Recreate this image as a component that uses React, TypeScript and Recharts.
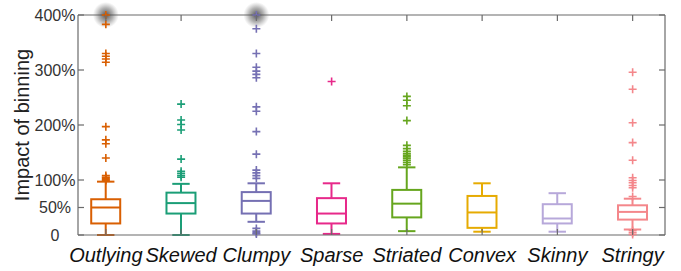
import { ComposedChart, Bar, Scatter, XAxis, YAxis } from 'recharts';

const categories = ['Outlying', 'Skewed', 'Clumpy', 'Sparse', 'Striated', 'Convex', 'Skinny', 'Stringy'];
const colors = ['#D95F02', '#1B9E77', '#7570B3', '#E7298A', '#66A61E', '#E6AB02', '#B7A8DA', '#F4878B'];

// box stats, in percent
const lowerWhisker = [0, 0, 24, 2, 7, 6, 6, 10];
const q1 = [21, 39, 39, 21, 32, 13, 21, 28];
const median = [50, 58, 62, 39, 57, 41, 30, 42];
const q3 = [65, 77, 78, 67, 82, 71, 56, 54];
const upperWhisker = [97, 93, 94, 94, 123, 94, 76, 66];

const outliers = [
  [400, 383, 330, 325, 320, 314, 197, 173, 166, 140, 108, 105, 103, 101, 99],
  [238, 209, 201, 191, 138, 116, 112, 108, 105],
  [400, 375, 330, 305, 298, 292, 286, 233, 225, 188, 147, 118, 113, 108, 103, 12, 7, 4, 2],
  [279],
  [252, 245, 235, 208, 163, 157, 152, 148, 145, 142, 139, 136, 132, 128],
  [],
  [],
  [296, 265, 204, 168, 136, 104, 99, 95, 90, 86, 70, 8, 4, 1],
];

const yTicks = [0, 50, 100, 200, 300, 400];
const xTicks = categories.map((_, i) => i + 1);

const boxData = categories.map((name, i) => ({
  x: i + 1,
  name,
  range: [lowerWhisker[i], upperWhisker[i]],
  q1: q1[i],
  med: median[i],
  q3: q3[i],
  color: colors[i],
}));

const axisColor = '#6b6b6b';
const font = '"Liberation Sans", Arial, sans-serif';

const BoxShape = (props: any) => {
  const { x, y, width, height, payload } = props;
  const [lo, hi] = payload.range;
  const top = Math.min(y, y + height);
  const h = Math.abs(height);
  const py = (v: number) => top + (h * (hi - v)) / (hi - lo);
  const cx = x + width / 2;
  const cap = width * 0.3;
  const c = payload.color;
  return (
    <g stroke={c} strokeWidth={2} fill="none">
      <line x1={cx} x2={cx} y1={py(hi)} y2={py(payload.q3)} />
      <line x1={cx} x2={cx} y1={py(payload.q1)} y2={py(lo)} />
      <line x1={cx - cap} x2={cx + cap} y1={py(hi)} y2={py(hi)} />
      <line x1={cx - cap} x2={cx + cap} y1={py(lo)} y2={py(lo)} />
      <rect x={x} y={py(payload.q3)} width={width} height={py(payload.q1) - py(payload.q3)} />
      <line x1={x} x2={x + width} y1={py(payload.med)} y2={py(payload.med)} />
    </g>
  );
};

const plusShape = (color: string) => (props: any) => {
  const { cx, cy, payload } = props;
  return (
    <g>
      {payload.y >= 400 && <circle cx={cx} cy={cy} r={13} fill="url(#glow)" />}
      <path d={`M${cx - 4},${cy}H${cx + 4}M${cx},${cy - 4}V${cy + 4}`} stroke={color} strokeWidth={1.6} />
    </g>
  );
};

const LeftTick = (props: any) => {
  const { x, y, payload } = props;
  return (
    <g>
      <line x1={x} x2={x + 6} y1={y} y2={y} stroke={axisColor} strokeWidth={1.2} />
      <text x={x - 23} y={y} textAnchor="middle" dominantBaseline="central" fontSize={16} fill="#333" fontFamily={font}>
        {payload.value === 0 ? '0' : `${payload.value}%`}
      </text>
    </g>
  );
};

const RightTick = (props: any) => {
  const { x, y } = props;
  return <line x1={x} x2={x - 6} y1={y} y2={y} stroke={axisColor} strokeWidth={1.2} />;
};

const BottomTick = (props: any) => {
  const { x, y, payload } = props;
  return (
    <g>
      <line x1={x} x2={x} y1={y} y2={y - 6} stroke={axisColor} strokeWidth={1.2} />
      <text x={x} y={y + 27} textAnchor="middle" fontSize={20} fontStyle="italic" fill="#111" fontFamily={font}>
        {categories[payload.value - 1]}
      </text>
    </g>
  );
};

const TopTick = (props: any) => {
  const { x, y } = props;
  return <line x1={x} x2={x} y1={y} y2={y + 6} stroke={axisColor} strokeWidth={1.2} />;
};

const YLabel = (props: any) => {
  const vb = props.viewBox;
  const cy = vb.y + vb.height / 2;
  return (
    <text
      x={22}
      y={cy}
      transform={`rotate(-90, 22, ${cy})`}
      textAnchor="middle"
      dominantBaseline="central"
      fontSize={20}
      fill="#222"
      fontFamily={font}
    >
      Impact of binning
    </text>
  );
};

const Nothing = () => <g />;

export default function App() {
  return (
    <div style={{ width: 681, height: 271, background: '#fff' }}>
      <style>{'body{margin:0}'}</style>
      <ComposedChart width={681} height={271} data={boxData} margin={{ top: 14, right: 15, bottom: 0, left: 18 }}>
        <defs>
          <radialGradient id="glow">
            <stop offset="0%" stopColor="#333" stopOpacity={0.85} />
            <stop offset="55%" stopColor="#555" stopOpacity={0.45} />
            <stop offset="100%" stopColor="#777" stopOpacity={0} />
          </radialGradient>
        </defs>
        <XAxis
          dataKey="x"
          type="number"
          domain={[0.63, 8.43]}
          ticks={xTicks}
          interval={0}
          height={36}
          tickSize={0}
          tickMargin={0}
          tickLine={false}
          axisLine={{ stroke: axisColor, strokeWidth: 1.2 }}
          tick={<BottomTick />}
        />
        <XAxis
          xAxisId="top"
          orientation="top"
          dataKey="x"
          type="number"
          domain={[0.63, 8.43]}
          allowDataOverflow
          ticks={xTicks}
          interval={0}
          height={1}
          tickSize={0}
          tickMargin={0}
          tickLine={false}
          axisLine={{ stroke: axisColor, strokeWidth: 1.2 }}
          tick={<TopTick />}
        />
        <YAxis
          type="number"
          domain={[0, 400]}
          ticks={yTicks}
          interval={0}
          width={60}
          tickSize={0}
          tickMargin={0}
          tickLine={false}
          axisLine={{ stroke: axisColor, strokeWidth: 1.2 }}
          tick={<LeftTick />}
          label={<YLabel />}
        />
        <YAxis
          yAxisId="right"
          orientation="right"
          type="number"
          domain={[0, 400]}
          allowDataOverflow
          ticks={yTicks}
          interval={0}
          width={1}
          tickSize={0}
          tickMargin={0}
          tickLine={false}
          axisLine={{ stroke: axisColor, strokeWidth: 1.2 }}
          tick={<RightTick />}
        />
        <Bar dataKey="range" barSize={29} shape={<BoxShape />} isAnimationActive={false} />
        {categories.map((name, i) => (
          <Scatter
            key={name}
            name={name}
            data={outliers[i].map((v) => ({ x: i + 1, y: v }))}
            dataKey="y"
            shape={plusShape(colors[i])}
            isAnimationActive={false}
          />
        ))}
        {/* carries the mirrored top/right axes of the frame */}
        <Scatter
          xAxisId="top"
          yAxisId="right"
          data={boxData}
          dataKey="med"
          shape={<Nothing />}
          isAnimationActive={false}
        />
      </ComposedChart>
    </div>
  );
}
